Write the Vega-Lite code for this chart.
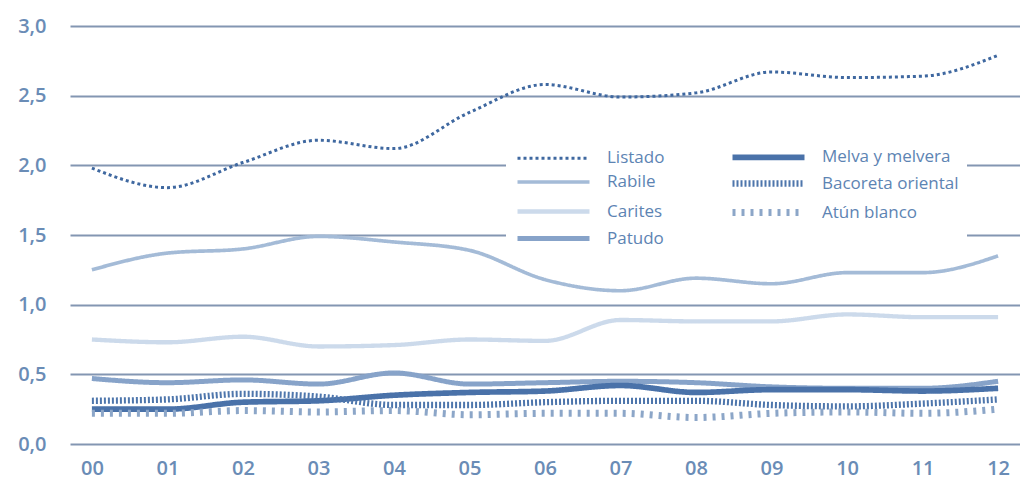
{
  "$schema": "https://vega.github.io/schema/vega-lite/v6.json",
  "width": 950,
  "height": 418,
  "autosize": {"type": "none"},
  "padding": {"left": 70, "top": 26, "right": 0, "bottom": 42},
  "background": "white",
  "config": {
    "view": {"stroke": null},
    "font": "Open Sans"
  },
  "data": {"values": [
    {"y":"00","s":"Listado","v":1.98},{"y":"01","s":"Listado","v":1.84},{"y":"02","s":"Listado","v":2.02},{"y":"03","s":"Listado","v":2.18},{"y":"04","s":"Listado","v":2.12},{"y":"05","s":"Listado","v":2.38},{"y":"06","s":"Listado","v":2.58},{"y":"07","s":"Listado","v":2.49},{"y":"08","s":"Listado","v":2.52},{"y":"09","s":"Listado","v":2.67},{"y":"10","s":"Listado","v":2.63},{"y":"11","s":"Listado","v":2.64},{"y":"12","s":"Listado","v":2.79},
    {"y":"00","s":"Rabile","v":1.25},{"y":"01","s":"Rabile","v":1.37},{"y":"02","s":"Rabile","v":1.40},{"y":"03","s":"Rabile","v":1.49},{"y":"04","s":"Rabile","v":1.45},{"y":"05","s":"Rabile","v":1.39},{"y":"06","s":"Rabile","v":1.18},{"y":"07","s":"Rabile","v":1.10},{"y":"08","s":"Rabile","v":1.19},{"y":"09","s":"Rabile","v":1.15},{"y":"10","s":"Rabile","v":1.23},{"y":"11","s":"Rabile","v":1.23},{"y":"12","s":"Rabile","v":1.35},
    {"y":"00","s":"Carites","v":0.75},{"y":"01","s":"Carites","v":0.73},{"y":"02","s":"Carites","v":0.77},{"y":"03","s":"Carites","v":0.70},{"y":"04","s":"Carites","v":0.71},{"y":"05","s":"Carites","v":0.75},{"y":"06","s":"Carites","v":0.74},{"y":"07","s":"Carites","v":0.89},{"y":"08","s":"Carites","v":0.88},{"y":"09","s":"Carites","v":0.88},{"y":"10","s":"Carites","v":0.93},{"y":"11","s":"Carites","v":0.91},{"y":"12","s":"Carites","v":0.91},
    {"y":"00","s":"Patudo","v":0.47},{"y":"01","s":"Patudo","v":0.44},{"y":"02","s":"Patudo","v":0.46},{"y":"03","s":"Patudo","v":0.43},{"y":"04","s":"Patudo","v":0.51},{"y":"05","s":"Patudo","v":0.43},{"y":"06","s":"Patudo","v":0.44},{"y":"07","s":"Patudo","v":0.45},{"y":"08","s":"Patudo","v":0.44},{"y":"09","s":"Patudo","v":0.41},{"y":"10","s":"Patudo","v":0.40},{"y":"11","s":"Patudo","v":0.40},{"y":"12","s":"Patudo","v":0.45},
    {"y":"00","s":"Melva y melvera","v":0.25},{"y":"01","s":"Melva y melvera","v":0.25},{"y":"02","s":"Melva y melvera","v":0.30},{"y":"03","s":"Melva y melvera","v":0.31},{"y":"04","s":"Melva y melvera","v":0.35},{"y":"05","s":"Melva y melvera","v":0.37},{"y":"06","s":"Melva y melvera","v":0.38},{"y":"07","s":"Melva y melvera","v":0.42},{"y":"08","s":"Melva y melvera","v":0.37},{"y":"09","s":"Melva y melvera","v":0.39},{"y":"10","s":"Melva y melvera","v":0.39},{"y":"11","s":"Melva y melvera","v":0.38},{"y":"12","s":"Melva y melvera","v":0.40},
    {"y":"00","s":"Bacoreta oriental","v":0.31},{"y":"01","s":"Bacoreta oriental","v":0.32},{"y":"02","s":"Bacoreta oriental","v":0.36},{"y":"03","s":"Bacoreta oriental","v":0.34},{"y":"04","s":"Bacoreta oriental","v":0.28},{"y":"05","s":"Bacoreta oriental","v":0.28},{"y":"06","s":"Bacoreta oriental","v":0.30},{"y":"07","s":"Bacoreta oriental","v":0.31},{"y":"08","s":"Bacoreta oriental","v":0.31},{"y":"09","s":"Bacoreta oriental","v":0.28},{"y":"10","s":"Bacoreta oriental","v":0.27},{"y":"11","s":"Bacoreta oriental","v":0.29},{"y":"12","s":"Bacoreta oriental","v":0.32},
    {"y":"00","s":"Atún blanco","v":0.22},{"y":"01","s":"Atún blanco","v":0.22},{"y":"02","s":"Atún blanco","v":0.24},{"y":"03","s":"Atún blanco","v":0.23},{"y":"04","s":"Atún blanco","v":0.24},{"y":"05","s":"Atún blanco","v":0.21},{"y":"06","s":"Atún blanco","v":0.22},{"y":"07","s":"Atún blanco","v":0.22},{"y":"08","s":"Atún blanco","v":0.19},{"y":"09","s":"Atún blanco","v":0.22},{"y":"10","s":"Atún blanco","v":0.23},{"y":"11","s":"Atún blanco","v":0.22},{"y":"12","s":"Atún blanco","v":0.25}
  ]},
  "mark": {"type": "line", "interpolate": "monotone", "strokeCap": "butt"},
  "encoding": {
    "x": {
      "field": "y", "type": "ordinal",
      "scale": {"type": "point", "padding": 0.29},
      "axis": {"title": null, "labelAngle": 0, "domain": false, "ticks": false, "grid": false,
               "labelFontSize": 20, "labelFontWeight": 600, "labelColor": "#6a8cb6", "labelPadding": 14}
    },
    "y": {
      "field": "v", "type": "quantitative",
      "scale": {"domain": [0, 3]},
      "axis": {"title": null, "values": [0, 0.5, 1, 1.5, 2, 2.5, 3], "domain": false, "ticks": false,
               "grid": true, "gridColor": "#8396b2", "gridWidth": 2, "gridOpacity": 1,
               "labelExpr": "replace(format(datum.value, '.1f'), '.', ',')",
               "labelFontSize": 20, "labelFontWeight": 600, "labelColor": "#6a8cb6", "labelPadding": 24}
    },
    "color": {
      "field": "s", "type": "nominal",
      "scale": {
        "domain": ["Listado", "Rabile", "Carites", "Patudo", "Melva y melvera", "Bacoreta oriental", "Atún blanco"],
        "range": ["#3f68a0", "#a4bbd7", "#ccdaeb", "#87a3c9", "#4a72a9", "#4e76ac", "#8ca6c8"]
      },
      "legend": {
        "title": null, "orient": "none", "legendX": 436, "legendY": 112,
        "direction": "vertical", "columns": 2, "columnPadding": 53, "rowPadding": 1,
        "fillColor": "white", "padding": 8,
        "symbolType": "M-1,0H8", "symbolSize": 256, "labelOffset": 70,
        "labelFontSize": 17, "labelColor": "#5d84b3", "labelFont": "Open Sans"
      }
    },
    "strokeDash": {
      "field": "s", "type": "nominal",
      "scale": {
        "domain": ["Listado", "Rabile", "Carites", "Patudo", "Melva y melvera", "Bacoreta oriental", "Atún blanco"],
        "range": [[3, 3], [1, 0], [1, 0], [1, 0], [1, 0], [2, 2], [3, 6]]
      },
      "legend": null
    },
    "strokeWidth": {
      "field": "s", "type": "nominal",
      "scale": {
        "domain": ["Listado", "Rabile", "Carites", "Patudo", "Melva y melvera", "Bacoreta oriental", "Atún blanco"],
        "range": [3, 7, 6, 6, 7, 8, 2.5]
      },
      "legend": null
    }
  }
}
